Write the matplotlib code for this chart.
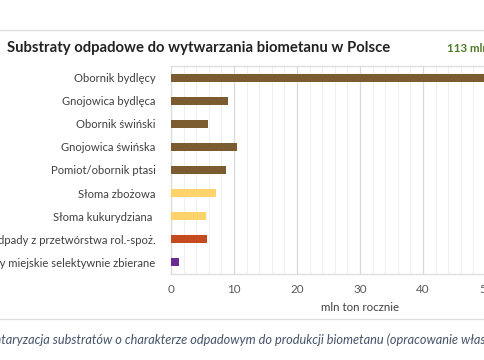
import numpy as np
import matplotlib.pyplot as plt
from matplotlib.lines import Line2D
from matplotlib.ticker import MultipleLocator

# -- data --
categories = [
    "Obornik bydlęcy",
    "Gnojowica bydlęca",
    "Obornik świński",
    "Gnojowica świńska",
    "Pomiot/obornik ptasi",
    "Słoma zbożowa",
    "Słoma kukurydziana ",
    "Odpady z przetwórstwa rol.-spoż.",
    "Odpady miejskie selektywnie zbierane",
]
values = [59.0, 9.0, 5.9, 10.5, 8.8, 7.1, 5.6, 5.7, 1.3]
colors = ["#7b5c31"] * 5 + ["#ffd36b"] * 2 + ["#c64a1f", "#6a2c90"]
total_label = "113 mln ton"
caption_head = "Inwen"
caption = "Inwentaryzacja substratów o charakterze odpadowym do produkcji biometanu (opracowanie własne)"


def main():
    plt.rcParams['font.family'] = ['Lato', 'DejaVu Sans']
    fig = plt.figure(figsize=(4.85, 3.6), dpi=100)

    ax = fig.add_axes([171 / 485, 86 / 360, 378 / 485, 208 / 360])
    y = np.arange(len(categories))
    ax.barh(y, values, height=0.32, color=colors, zorder=3)
    ax.set_ylim(8.52, -0.52)
    ax.set_xlim(0, 60)
    ax.set_yticks(y)
    ax.set_yticklabels(categories, fontsize=8.1, color="#404040")
    ax.xaxis.set_major_locator(MultipleLocator(10))
    ax.xaxis.set_minor_locator(MultipleLocator(2))
    ax.tick_params(axis='x', which='both', length=0, labelsize=8.4,
                   labelcolor="#595959", pad=7)
    ax.tick_params(axis='y', length=0, pad=11)
    ax.grid(axis='x', which='major', color="#d9d9d9", lw=0.9, zorder=0)
    ax.grid(axis='x', which='minor', color="#efefef", lw=0.8, zorder=0)
    for s in ax.spines.values():
        s.set_color("#dcdcdc")
        s.set_linewidth(0.9)
    ax.set_xlabel("mln ton rocznie", fontsize=8.3, color="#404040", labelpad=5)

    # -- title and header --
    fig.text(7 / 485, 1 - 48 / 360, "Substraty odpadowe do wytwarzania biometanu w Polsce",
             fontsize=10.75, fontweight='bold', color="#222222", va='center')
    fig.text(447 / 485, 1 - 48 / 360, total_label, fontsize=8.3, fontweight='bold',
             color="#4e7a27", va='center')

    # -- separator lines --
    fig.add_artist(Line2D([0, 1], [1 - 30 / 360, 1 - 30 / 360], color="#dddddd", lw=0.9))
    fig.add_artist(Line2D([0, 1], [1 - 319 / 360, 1 - 319 / 360], color="#dddddd", lw=0.9))

    # -- caption, cropped on the left like the source screenshot --
    r = fig.canvas.get_renderer()
    tmp = fig.text(0, 0, caption_head, fontsize=9.2, style='italic')
    head_w = tmp.get_window_extent(r).width
    tmp.remove()
    fig.text((1 - head_w) / 485, 1 - 340 / 360, caption,
             fontsize=9.2, style='italic', color="#44546a", va='center')

    plt.savefig("out.png", dpi=100)
    plt.close("all")


if __name__ == "__main__":
    main()
